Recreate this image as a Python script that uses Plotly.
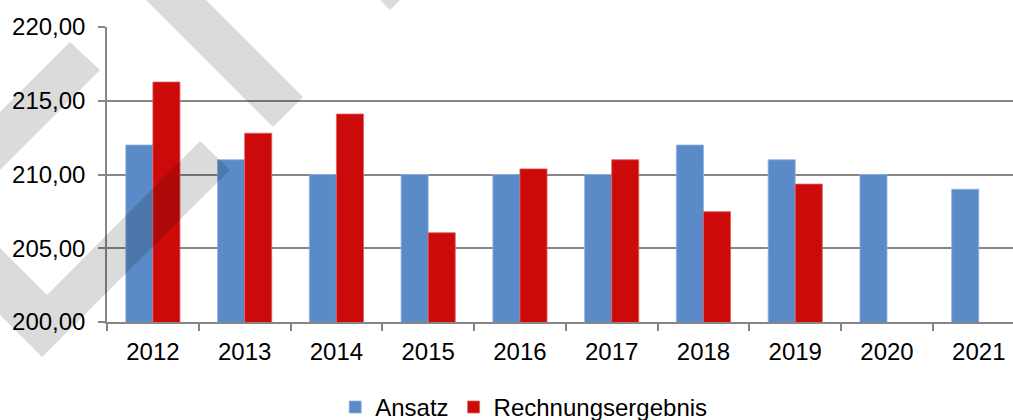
import plotly.graph_objects as go

years = ["2012", "2013", "2014", "2015", "2016", "2017", "2018", "2019", "2020", "2021"]
ansatz = [212.0, 211.0, 210.0, 210.0, 210.0, 210.0, 212.0, 211.0, 210.0, 209.0]
rechnung = [216.27, 212.8, 214.1, 206.05, 210.38, 211.0, 207.48, 209.35, None, None]
y_ticks = [200, 205, 210, 215, 220]

W, H = 1013, 420
L, R, T, B = 107, 0, 27, 98
PW, PH = W - L - R, H - T - B


def px(pts):
    # convert pixel coordinates of the watermark decoration into paper coordinates
    parts = []
    for i, (x, y) in enumerate(pts):
        xp = (x - L) / PW
        yp = (H - B - y) / PH
        parts.append(("M" if i == 0 else "L") + f"{xp:.5f},{yp:.5f}")
    return " ".join(parts) + " Z"


watermark = [
    [(273, 127), (303, 97), (183, -23), (123, -23)],
    [(370, -10), (390, 10), (410, -10)],
    [(70, 42), (100, 70), (-30, 200), (-60, 172)],
    [(200, 141), (230, 170), (42, 357), (-20, 295), (-20, 228), (47, 295)],
]

fig = go.Figure()
fig.add_trace(go.Bar(x=years, y=ansatz, name="Ansatz",
                     marker=dict(color="#5A8BC8", line=dict(color="#8FB2DD", width=0.8))))
fig.add_trace(go.Bar(x=years, y=rechnung, name="Rechnungsergebnis",
                     marker=dict(color="#CC0A0A", line=dict(color="#E06060", width=0.8))))

font = dict(family="Liberation Sans, Arial, sans-serif", size=24, color="#000000")

fig.update_layout(
    width=W, height=H,
    margin=dict(l=L, r=R, t=T, b=B, pad=0),
    paper_bgcolor="white", plot_bgcolor="white",
    separators=",.",
    font=font,
    barmode="group", bargap=0.41, bargroupgap=0,
    showlegend=True,
    legend=dict(orientation="h", xref="container", yref="container",
                x=0.517, xanchor="center", y=0.03, yanchor="middle",
                font=font, itemwidth=30, traceorder="normal"),
    xaxis=dict(type="category", range=[-0.5, 9.373], showgrid=False,
               showline=True, linecolor="#868686", linewidth=1.5,
               ticks="outside", tickson="boundaries", ticklen=7, tickcolor="#868686",
               tickwidth=1.5, tickfont=font, fixedrange=True, ticklabelstandoff=7),
    yaxis=dict(range=[200, 220], tickvals=y_ticks, tickformat=".2f",
               showgrid=True, gridcolor="#868686", gridwidth=1.5,
               showline=True, linecolor="#868686", linewidth=1.5,
               ticks="outside", ticklen=7, tickcolor="#868686", tickwidth=1.5,
               tickfont=font, zeroline=False, ticklabelstandoff=8, fixedrange=True),
    shapes=[dict(type="path", xref="paper", yref="paper", path=px(p),
                 fillcolor="rgba(0,0,0,0.14)", line=dict(width=0), layer="above")
            for p in watermark],
)

fig.write_html("out.html", config={"displayModeBar": False},
               post_script="document.body.style.margin='0';")
